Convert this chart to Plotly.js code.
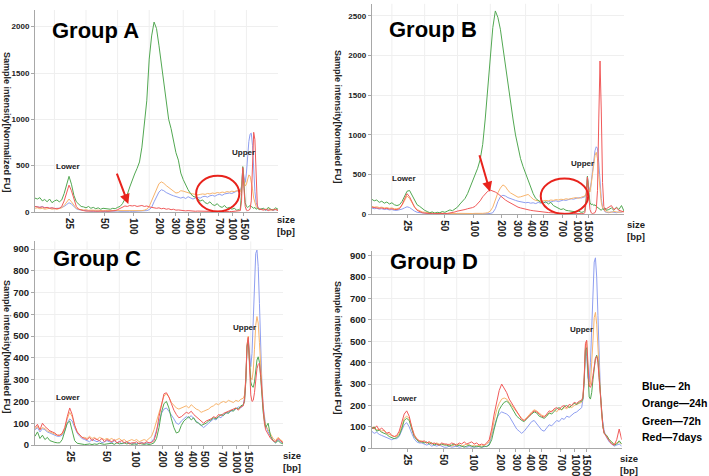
<!DOCTYPE html>
<html><head><meta charset="utf-8">
<script src="https://cdn.plot.ly/plotly-3.0.1.min.js"></script>
<style>html,body{margin:0;padding:0;background:#fff;}#chart{width:709px;height:476px;}</style>
</head><body><div id="chart"></div>
<script>
// migration position (normalized 0-100 along each panel's x axis)
const pos = [0,1,2,3,4,5,6,7,8,9,10,11,12,13,14,15,16,17,18,19,20,21,22,23,24,25,26,27,28,29,
30,31,32,33,34,35,36,37,38,39,40,41,42,43,44,45,46,47,48,49,50,51,52,53,54,55,56,57,58,59,
60,61,62,63,64,65,66,67,68,69,70,71,72,73,74,75,76,77,78,79,80,81,82,83,84,
84.5,85,85.5,86,86.5,87,87.5,88,88.5,89,89.5,90,90.5,91,91.5,92,92.5,93,
94,95,96,97,98,99,100];

const sizeTickPos = [14.2,28.7,40.5,51.3,57.7,63.3,68.1,75.7,81.3,86.0];
const sizeTickText = ['25','50','100','200','300','400','500','700','1000','1500'];
const seriesNames = ['Blue — 2h','Orange — 24h','Green — 72h','Red — 7days'];
const legendLines = ['Blue— 2h','Orange—24h','Green—72h','Red—7days'];
const groupNames = ['Group A','Group B','Group C','Group D'];
const yTitles = ['Sample intensity[Normalized FU]','Sample intensity[Normaled FU]','Sample intensity[Normaled FU]','Sample intensity[Normaled FU]'];

// Group A
const A_blue = [60,55,50,60,45,50,40,45,35,40, 40,50,60,80,100,85,55,35,25,20, 15,10,12,8,10,12,8,10,6,8,
 8,10,6,8,10,7,9,8,10,8, 6,8,10,9,10,12,15,25,50,110, 170,215,240,230,210,195,185,175,165,160,
 150,160,145,165,150,140,150,155,150,165, 170,160,175,180,170,185,190,180,195,200, 205,200,215,225,235,
 230,280,470,380,320,420,600,760,840,850,720,450,220,100,60,40,30,35, 30,20,25,30,20,25,20];
const A_orange = [40,45,35,40,30,35,40,30,35,30, 35,45,70,110,140,110,70,40,30,25, 20,25,18,20,15,18,20,15,12,15,
 15,12,15,10,12,15,10,12,15,10, 12,10,15,12,15,20,30,60,120,200, 260,305,325,310,285,265,245,225,205,210,
 230,225,215,210,200,195,190,185,190,195, 190,200,195,205,200,210,205,215,210,220, 215,225,220,230,225,
 220,260,470,350,280,300,360,400,390,330,250,150,90,60,40,35,30,30, 30,25,35,20,30,25,20];
const A_green = [150,140,155,120,135,110,140,100,120,130, 110,130,200,300,385,300,180,110,80,60, 55,45,60,40,50,35,45,30,40,35,
 35,30,40,35,50,60,90,140,190,270, 350,410,470,540,700,950,1200,1650,1900,2050, 1980,1800,1600,1350,1150,1000,900,760,640,560,
 420,350,290,240,200,170,160,140,120,130, 100,90,110,80,70,90,60,50,70,40, 50,30,40,20,25,
 40,200,490,300,100,60,50,60,70,60,50,40,50,30,40,30,25,30, 40,20,50,30,20,45,30];
const A_red = [60,55,50,55,45,50,40,45,40,35, 40,60,120,220,290,230,130,60,30,20, 15,10,12,8,10,8,10,6,8,10,
 8,10,12,15,25,40,55,65,60,70, 65,70,60,65,70,60,65,55,50,45, 40,45,35,40,30,35,25,30,20,22,
 18,15,12,15,10,12,8,10,8,6, 8,5,7,6,8,5,6,7,5,8, 6,5,8,6,10,
 15,120,480,250,60,20,15,20,30,120,500,860,780,300,60,35,30,25, 20,30,15,25,20,30,15];

// Group B
const B_blue = [80,70,75,65,70,60,65,55,60,50, 50,55,65,80,95,85,60,40,25,20, 15,10,12,8,10,6,8,5,6,5,
 5,6,5,8,6,5,7,6,8,6, 6,8,5,7,6,8,6,10,20,70, 160,220,240,230,210,195,185,175,165,160,
 150,145,150,140,145,135,150,140,155,145, 160,155,165,170,160,175,180,175,185,195, 190,200,210,205,215,
 220,260,470,350,300,400,550,700,800,850,830,650,400,200,90,50,30,25, 20,30,25,20,30,25,40];
const B_orange = [100,90,95,85,90,80,85,75,80,70, 70,80,110,170,230,200,140,90,60,40, 30,25,20,22,18,15,18,12,15,12,
 10,12,10,8,10,12,10,8,12,10, 10,12,10,15,12,15,20,40,90,180, 270,330,370,350,300,270,250,230,215,220,
 230,240,250,220,190,175,170,165,170,175, 170,180,175,185,180,190,185,195,190,200, 205,210,200,215,220,
 230,270,460,330,280,380,520,650,740,780,700,500,300,150,80,50,40,30, 30,25,35,30,25,30,35];
const B_green = [190,170,180,150,165,140,155,130,145,120, 110,120,160,230,290,300,240,170,120,100, 70,50,35,20,30,15,25,20,35,25,
 40,55,45,70,90,130,160,200,260,340, 420,490,580,690,880,1200,1550,1900,2350,2560, 2480,2330,2100,1850,1600,1380,1200,1000,850,700,
 600,510,420,330,260,200,170,150,140,160, 130,150,110,90,80,60,70,50,45,40, 35,30,40,25,30,
 50,200,480,300,150,120,130,110,120,100,90,80,60,50,70,60,80,50, 60,80,50,90,60,110,40];
const B_red = [90,85,80,75,80,70,75,65,70,60, 60,70,120,190,260,220,150,90,50,30, 20,15,10,12,8,10,8,6,8,10,
 10,15,20,30,40,45,55,60,70,75, 85,100,130,170,220,260,290,305,295,280, 260,230,210,180,160,140,120,100,90,80,
 70,65,55,50,45,40,35,30,28,25, 22,20,18,15,15,12,12,10,10,8, 8,10,6,8,10,
 20,150,470,250,60,20,10,15,20,60,300,1200,1930,1300,400,100,50,70, 90,110,60,80,50,40,30];

// Group C
const C_blue = [70,80,60,75,70,60,55,50,45,40, 40,45,65,100,120,110,80,55,40,30, 25,20,15,25,20,15,20,10,15,20,
 15,10,20,10,15,5,10,15,10,5, 10,5,8,12,5,10,8,15,30,70, 110,145,165,170,155,140,120,100,95,110,
 120,130,125,135,120,110,100,90,80,90, 100,110,120,115,130,125,140,145,150,155, 160,165,175,170,185,
 220,300,450,490,400,360,420,600,780,880,895,820,650,450,280,180,120,90, 60,40,20,10,25,15,10];
const C_orange = [75,85,70,80,75,65,60,55,50,45, 45,50,75,120,150,130,90,60,45,35, 35,30,40,30,35,25,35,30,25,30,
 25,30,20,25,30,20,25,15,20,25, 20,25,15,20,25,20,30,40,70,110, 150,195,225,235,220,195,180,170,165,170,
 175,180,170,185,175,165,160,150,155,160, 165,175,180,190,185,195,200,195,205,200, 195,205,200,210,215,
 230,310,460,500,380,310,300,340,440,550,590,560,470,350,250,170,120,90, 70,50,30,20,35,25,15];
const C_green = [40,60,30,45,25,35,20,15,12,10, 10,25,60,100,110,60,20,8,5,3, 2,3,5,2,5,3,8,5,3,5,
 5,8,3,10,5,8,10,5,8,3, 5,3,8,5,3,5,2,5,10,30, 80,150,190,200,170,120,80,55,60,90,
 110,120,130,115,125,105,100,90,95,100, 110,115,125,120,130,140,135,150,145,160, 155,170,165,180,185,
 200,290,450,480,360,290,270,265,290,340,390,405,380,310,220,150,110,80, 100,40,20,10,20,10,5];
const C_red = [80,95,70,100,85,75,65,60,55,45, 45,55,80,130,170,140,90,60,45,35, 30,25,35,20,30,25,20,30,15,25,
 20,15,25,10,15,20,10,15,5,10, 10,15,5,10,8,15,10,12,20,60, 130,190,235,240,220,190,160,140,125,130,
 140,150,145,155,140,130,120,110,100,110, 115,120,130,125,140,135,145,150,155,160, 165,170,160,175,180,
 210,300,460,495,330,230,200,205,240,300,350,370,376,320,230,150,100,70, 50,30,20,15,30,20,10];

// Group D
const D_blue = [80,70,75,65,60,55,50,45,40,45, 45,55,80,110,120,100,70,45,30,25, 25,20,15,20,10,15,10,15,10,5,
 5,10,5,8,10,5,8,10,5,8, 5,8,5,10,5,8,10,20,60,110, 140,160,170,165,160,150,130,110,90,80,
 70,80,95,110,125,130,115,100,85,80, 95,110,105,120,130,125,140,135,150,145, 155,165,170,180,190,
 230,320,470,430,330,310,400,580,760,870,890,800,620,420,260,160,110,80, 50,30,20,10,15,20,10];
const D_orange = [95,100,85,90,80,85,70,65,60,55, 55,70,100,140,150,140,100,65,45,35, 35,30,25,30,25,20,25,20,15,20,
 15,20,10,15,20,15,10,15,20,15, 10,15,10,15,10,15,20,30,70,130, 180,210,230,235,230,215,200,185,165,150,
 140,130,145,155,170,180,175,165,155,150, 155,165,175,180,170,185,180,190,185,195, 190,200,205,210,215,
 240,330,480,500,360,290,300,380,500,610,635,580,460,330,230,150,100,70, 60,40,30,20,25,30,20];
const D_green = [90,100,80,85,75,70,65,55,50,45, 50,60,90,130,140,130,90,55,40,30, 30,25,30,20,25,15,20,15,20,15,
 15,10,15,20,10,15,10,5,10,15, 10,5,10,8,5,10,8,15,40,90, 140,180,200,215,220,210,190,170,150,140,
 130,125,140,150,160,170,165,150,145,140, 150,165,160,175,185,190,180,195,200,190, 200,210,205,215,220,
 230,310,460,470,330,240,230,260,320,380,420,435,410,330,240,160,100,70, 60,40,30,15,20,35,20];
const D_red = [100,90,105,85,95,80,70,75,60,55, 60,80,120,160,175,150,100,60,45,35, 30,35,25,30,20,25,20,15,25,20,
 20,15,25,20,15,25,20,30,20,25, 30,20,25,15,20,15,25,40,90,160, 220,270,300,280,260,230,210,190,170,150,
 135,130,140,150,165,175,170,160,150,145, 160,175,170,185,190,180,195,200,190,205, 200,215,210,220,225,
 240,330,490,505,360,290,285,300,340,390,420,430,400,320,230,150,100,70, 50,35,20,15,40,90,40];

const colors = ['#8e9ef0','#f8b46c','#52a852','#f05a5a'];
const W = 709, H = 476;
const px = v => v / W, py = v => 1 - v / H;

const panels = [
  {series:[A_blue,A_orange,A_green,A_red], xa:'x', ya:'y', xd:[35,278], yd:[212,10], yr:[0,2180], yt:[0,500,1000,1500,2000], yfs:8},
  {series:[B_blue,B_orange,B_green,B_red], xa:'x2', ya:'y2', xd:[371.7,624], yd:[214.3,3.8], yr:[0,2650], yt:[0,500,1000,1500,2000,2500], yfs:8},
  {series:[C_blue,C_orange,C_green,C_red], xa:'x3', ya:'y3', xd:[35,283], yd:[445,241.4], yr:[0,935], yt:[0,100,200,300,400,500,600,700,800,900], yfs:9.5},
  {series:[D_blue,D_orange,D_green,D_red], xa:'x4', ya:'y4', xd:[371.7,621.7], yd:[448.3,251.4], yr:[0,920], yt:[0,100,200,300,400,500,600,700,800,900], yfs:9.5}
];

const FONT = 'Liberation Sans, Arial, sans-serif';
const traces = [];
const layout = {
  width: W, height: H, margin:{l:0,r:0,t:0,b:0}, paper_bgcolor:'#fff', plot_bgcolor:'#fff',
  showlegend:false, hovermode:false, font:{family:FONT, color:'#111'},
  annotations:[], shapes:[]
};
const gridX = [8,21,34,47,61,74,87];

panels.forEach((p, i) => {
  p.series.forEach((s, k) => {
    traces.push({x:pos, y:s, type:'scatter', mode:'lines', name:seriesNames[k],
      xaxis:p.xa, yaxis:p.ya, line:{color:colors[k], width:1}});
  });
  const xk = 'xaxis' + (i ? i+1 : ''), yk = 'yaxis' + (i ? i+1 : '');
  layout[xk] = {domain:[px(p.xd[0]), px(p.xd[1])], anchor:p.ya, range:[0,100],
    tickmode:'array', tickvals:sizeTickPos, ticktext:sizeTickText, tickangle:90,
    showgrid:false, zeroline:false, showline:true, linecolor:'#a8a8a8', linewidth:1,
    ticks:'outside', ticklen:3, tickcolor:'#a8a8a8',
    tickfont:{family:FONT, size:10, color:'#222', weight:700}, fixedrange:true};
  layout[yk] = {domain:[py(p.yd[0]), py(p.yd[1])], anchor:p.xa, range:p.yr,
    tickmode:'array', tickvals:p.yt, showgrid:true, gridcolor:'#efefef', zeroline:false,
    showline:true, linecolor:'#a8a8a8', ticks:'outside', ticklen:3, tickcolor:'#a8a8a8',
    tickfont:{family:FONT, size:p.yfs, color:'#222', weight:700}, fixedrange:true};
  gridX.forEach(g => layout.shapes.push({type:'line', xref:p.xa, yref:p.ya+' domain', x0:g, x1:g, y0:0, y1:1,
    line:{color:'#efefef', width:1}, layer:'below'}));
});

// titles & labels (pixel placements)
const ann = (x, y, text, size, extra) => layout.annotations.push(Object.assign({xref:'paper', yref:'paper',
  x:px(x), y:py(y), text:text, showarrow:false, xanchor:'center', yanchor:'middle',
  font:{family:FONT, size:size, color:'#000'}}, extra || {}));

[[95,31],[433,29],[97,258],[434,261]].forEach((c,i) => ann(c[0], c[1], '<b>'+groupNames[i]+'</b>', 22));
[[7,122],[338,117],[7,347],[338,348]].forEach((c,i) => ann(c[0], c[1], '<b>'+yTitles[i]+'</b>', 9, {textangle:90, font:{family:FONT,size:9,color:'#222'}}));
[[286,225],[636,230],[292,461],[629,464]].forEach(c => ann(c[0], c[1], '<b>size<br>[bp]</b>', 9.5, {font:{family:FONT,size:9.5,color:'#222'}}));
[[68,166],[404,178],[68,397],[405,398]].forEach(c => ann(c[0], c[1], '<b>Lower</b>', 8, {font:{family:FONT,size:8,color:'#222'}}));
[[243,152],[582,163],[244,327],[581,329]].forEach(c => ann(c[0], c[1], '<b>Upper</b>', 8, {font:{family:FONT,size:8,color:'#222'}}));
[386,403,421,437].forEach((y,i) => ann(640, y, '<b>'+legendLines[i]+'</b>', 10.5, {xanchor:'left', font:{family:FONT,size:10.5,color:'#000'}}));

// red arrows
layout.annotations.push({xref:'x', yref:'y', x:38.4, y:86, ax:-12, ay:-32, showarrow:true,
  arrowcolor:'#e8231c', arrowwidth:2, arrowhead:2, arrowsize:1, text:''});
layout.annotations.push({xref:'x2', yref:'y2', x:46.9, y:285, ax:-11, ay:-38, showarrow:true,
  arrowcolor:'#e8231c', arrowwidth:2, arrowhead:2, arrowsize:1, text:''});
// red ellipses
layout.shapes.push({type:'circle', xref:'x', yref:'y', x0:66.3, x1:84.1, y0:5, y1:392, line:{color:'#e8231c', width:2}});
layout.shapes.push({type:'circle', xref:'x2', yref:'y2', x0:67.0, x1:85.8, y0:5, y1:450, line:{color:'#e8231c', width:2}});

Plotly.newPlot('chart', traces, layout, {staticPlot:true, displayModeBar:false});
</script></body></html>
